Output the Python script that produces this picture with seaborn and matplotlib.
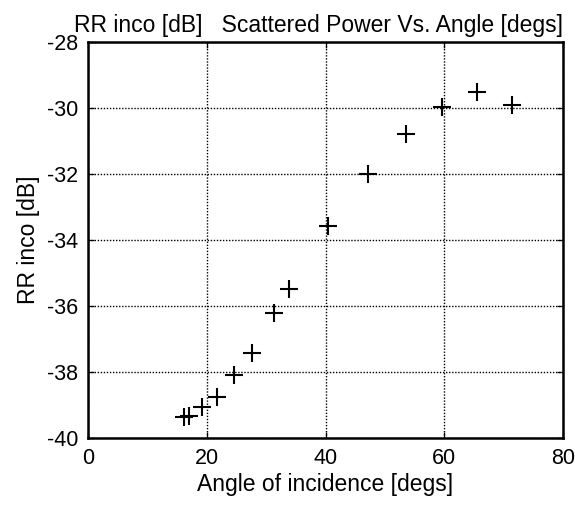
import matplotlib
matplotlib.use("Agg")
import matplotlib.pyplot as plt
import seaborn as sns
import pandas as pd

angle = [16.2, 17.0, 19.2, 21.7, 24.6, 27.6, 31.4, 33.9, 40.5, 47.2, 53.5, 59.7, 65.5, 71.4]
rr_inco = [-39.35, -39.32, -39.05, -38.75, -38.08, -37.42, -36.2, -35.47, -33.57, -32.0, -30.8, -29.97, -29.5, -29.9]
xticks = [0, 20, 40, 60, 80]
yticks = [-40, -38, -36, -34, -32, -30, -28]

sns.set_theme(style="white")
plt.rcParams['font.family'] = ['Liberation Sans', 'DejaVu Sans']

df = pd.DataFrame({"angle": angle, "rr": rr_inco})

fig = plt.figure(figsize=(5.75, 5.05), dpi=100)
ax = fig.add_axes([88/575, 67/505, 475/575, 396/505])
sns.scatterplot(data=df, x="angle", y="rr", marker="+", color="black",
                s=150, linewidth=1.5, ax=ax, legend=False, zorder=3)

ax.set_xlim(0, 80)
ax.set_ylim(-40, -28)
ax.set_xticks(xticks)
ax.set_yticks(yticks)
ax.set_xticklabels([str(v) for v in xticks])
ax.set_yticklabels([str(v) for v in yticks])
ax.grid(True, color="black", linestyle=(0, (1, 1.2)), linewidth=1.0)
for s in ax.spines.values():
    s.set_color("black")
    s.set_linewidth(1.8)
ax.tick_params(direction="in", length=4, width=0.9, colors="black",
               top=True, right=True, bottom=True, left=True,
               labelsize=15.5, pad=7)
ax.set_xlabel("Angle of incidence [degs]", fontsize=16.5, color="black", labelpad=3)
ax.set_ylabel("RR inco [dB]", fontsize=16.5, color="black", labelpad=5)
ax.set_title("RR inco [dB]   Scattered Power Vs. Angle [degs]", fontsize=16.5,
             color="black", pad=7, x=0.485)

fig.savefig("out.png", dpi=100, facecolor="white")
